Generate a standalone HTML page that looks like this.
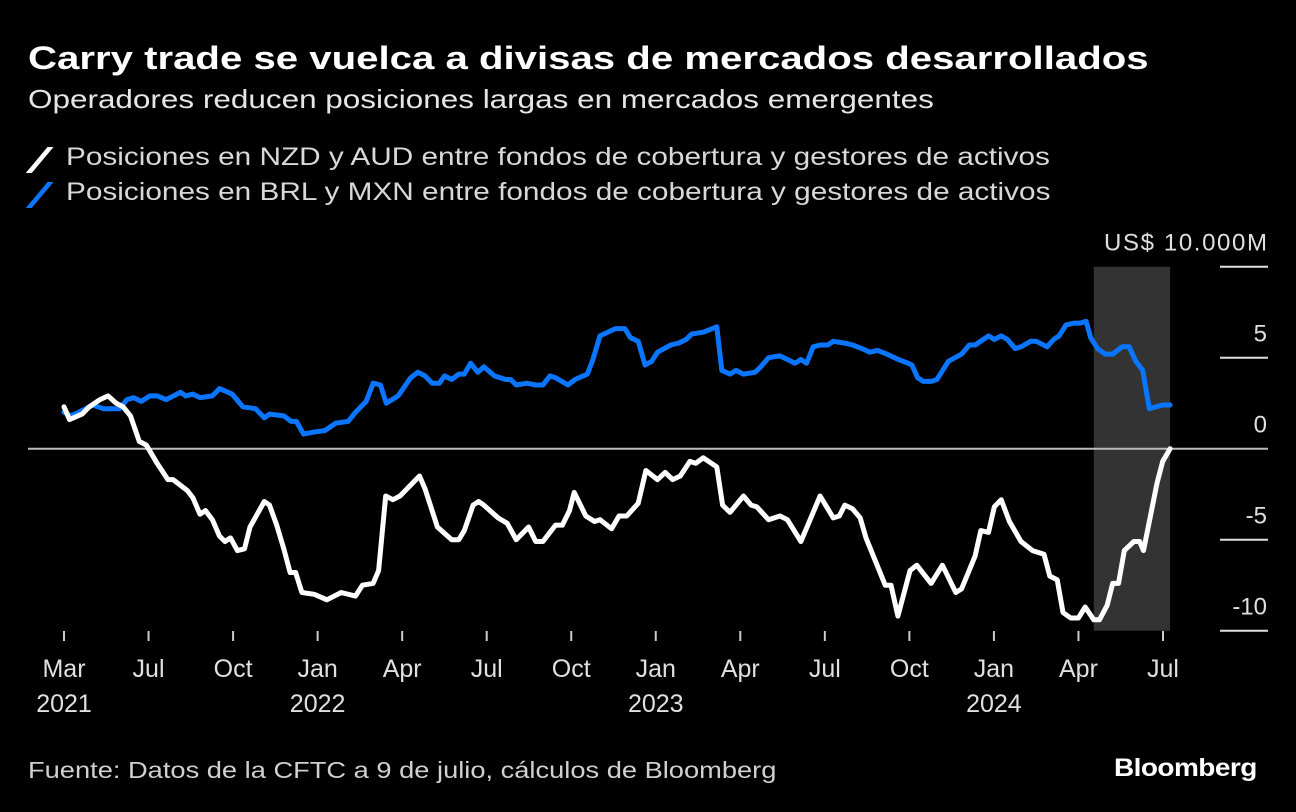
<!DOCTYPE html>
<html><head><meta charset="utf-8"><style>
html,body{margin:0;padding:0;background:#000;}
body{width:1296px;height:812px;position:relative;overflow:hidden;font-family:"Liberation Sans",sans-serif;color:#fff;}
.t{position:absolute;white-space:nowrap;transform-origin:0 0;}
</style></head><body>
<div class="t" style="left:28px;top:40px;font-size:32px;font-weight:bold;transform:scaleX(1.255);">Carry trade se vuelca a divisas de mercados desarrollados</div>
<div class="t" style="left:28px;top:84px;font-size:26px;color:#e6e6e6;transform:scaleX(1.21);">Operadores reducen posiciones largas en mercados emergentes</div>
<div class="t" style="left:30px;top:143px;font-size:25px;color:#d8d8d8;"><span style="display:inline-block;width:6px;height:26px;background:#fff;transform:skewX(-40deg) translateY(4px);margin:0 0 0 10px;"></span><span style="position:absolute;left:36px;top:0;transform:scaleX(1.19);transform-origin:0 0;">Posiciones en NZD y AUD entre fondos de cobertura y gestores de activos</span></div>
<div class="t" style="left:30px;top:178px;font-size:25px;color:#d8d8d8;"><span style="display:inline-block;width:6px;height:26px;background:#0a75ff;transform:skewX(-40deg) translateY(4px);margin:0 0 0 10px;"></span><span style="position:absolute;left:36px;top:0;transform:scaleX(1.19);transform-origin:0 0;">Posiciones en BRL y MXN entre fondos de cobertura y gestores de activos</span></div>
<div class="t" style="left:28px;top:757px;font-size:23px;color:#d0d0d0;transform:scaleX(1.185);">Fuente: Datos de la CFTC a 9 de julio, cálculos de Bloomberg</div>
<div class="t" style="left:1114px;top:754px;font-size:25px;font-weight:bold;letter-spacing:-0.5px;transform:scaleX(1.12);">Bloomberg</div>
<svg id="chart" width="1296" height="812" style="position:absolute;left:0;top:0;"></svg>
<script>
const yTicks=[10,5,0,-5,-10];
const yTickLabels=["US$ 10.000M","5","0","-5","-10"];
const xTickMonths=[0,3.077,6.154,9.231,12.308,15.385,18.462,21.538,24.615,27.692,30.769,33.846,36.923,40];
const xTickLabels=["Mar","Jul","Oct","Jan","Apr","Jul","Oct","Jan","Apr","Jul","Oct","Jan","Apr","Jul"];
const xYearLabels=["2021","","","2022","","","","2023","","","","2024","",""];
const shadeStart=37.48, shadeEnd=40.26;
const nzdMonths=[0,0.2,0.66,0.92,1.31,1.6,1.9,2.15,2.42,2.74,3,3.39,3.78,3.97,4.49,4.69,4.95,5.15,5.4,5.66,5.86,6.06,6.31,6.57,6.77,7.29,7.48,7.74,8,8.23,8.43,8.66,9.11,9.57,10.09,10.61,10.86,11.25,11.45,11.71,11.97,12.23,12.94,13.14,13.59,14.11,14.37,14.57,14.89,15.09,15.28,15.8,16.13,16.46,16.91,17.17,17.43,17.89,18.14,18.4,18.57,18.99,19.31,19.51,19.93,20.2,20.48,20.9,21.18,21.6,21.88,22.15,22.43,22.78,22.99,23.27,23.76,23.97,24.24,24.73,25.01,25.22,25.64,26.06,26.33,26.82,27.52,28,28.22,28.42,28.7,28.98,29.19,29.54,29.89,30.1,30.35,30.79,31.04,31.56,31.97,32.46,32.67,33.16,33.37,33.65,33.86,34.11,34.41,34.83,35.25,35.67,35.88,36.15,36.36,36.64,36.92,37.17,37.48,37.69,37.97,38.17,38.38,38.59,38.94,39.15,39.29,39.78,39.99,40.26];
const nzdValues=[2.3,1.6,1.9,2.3,2.7,2.9,2.5,2.3,1.8,0.4,0.2,-0.8,-1.7,-1.7,-2.3,-2.7,-3.6,-3.4,-3.9,-4.8,-5.1,-4.9,-5.6,-5.5,-4.3,-2.9,-3.1,-4.2,-5.5,-6.8,-6.8,-7.9,-8,-8.3,-7.9,-8.1,-7.5,-7.4,-6.7,-2.6,-2.8,-2.6,-1.5,-2.2,-4.3,-5,-5,-4.5,-3.1,-2.9,-3.1,-3.8,-4.1,-5,-4.3,-5.1,-5.1,-4.2,-4.2,-3.4,-2.4,-3.7,-4,-3.9,-4.4,-3.7,-3.7,-3,-1.2,-1.7,-1.3,-1.7,-1.5,-0.7,-0.8,-0.5,-1,-3.1,-3.5,-2.6,-3.1,-3.2,-3.9,-3.7,-3.9,-5.1,-2.6,-3.8,-3.7,-3.1,-3.3,-3.8,-4.9,-6.2,-7.5,-7.5,-9.2,-6.7,-6.4,-7.4,-6.4,-7.9,-7.7,-5.9,-4.5,-4.6,-3.2,-2.8,-4,-5.1,-5.6,-5.8,-7,-7.2,-9,-9.3,-9.3,-8.7,-9.4,-9.4,-8.6,-7.4,-7.4,-5.6,-5.1,-5.1,-5.6,-1.9,-0.7,0];
const brlMonths=[0,0.27,0.66,1.05,1.44,2.02,2.29,2.54,2.81,3.13,3.39,3.72,4.24,4.43,4.69,4.95,5.4,5.66,6.12,6.51,6.97,7.29,7.48,8,8.27,8.46,8.72,9.04,9.5,9.89,10.34,10.61,11,11.25,11.52,11.73,12.16,12.62,12.88,13.14,13.4,13.66,13.85,14.11,14.37,14.57,14.8,15.06,15.28,15.67,16.07,16.26,16.46,16.84,17.17,17.43,17.69,17.89,18.34,18.6,19.05,19.25,19.51,20.07,20.41,20.62,20.9,21.15,21.39,21.6,22.09,22.37,22.64,22.85,23.27,23.76,23.94,24.24,24.46,24.73,25.15,25.36,25.64,26.06,26.61,26.82,27.03,27.27,27.52,27.8,28,28.42,28.7,29.05,29.33,29.61,29.95,30.37,30.72,30.86,31.07,31.28,31.56,31.77,32.19,32.67,32.95,33.16,33.65,33.86,34.11,34.34,34.62,34.83,35.18,35.39,35.78,36.02,36.22,36.47,36.78,36.99,37.2,37.37,37.62,37.9,38.17,38.52,38.77,39.01,39.26,39.5,39.99,40.26];
const brlValues=[2,1.8,2.1,2.4,2.2,2.2,2.7,2.8,2.6,2.9,2.9,2.7,3.1,2.9,3,2.8,2.9,3.3,3,2.3,2.2,1.7,1.9,1.8,1.5,1.5,0.8,0.9,1,1.4,1.5,2,2.6,3.6,3.5,2.5,2.9,3.9,4.2,4,3.6,3.6,4,3.8,4.1,4.1,4.7,4.2,4.5,4,3.8,3.8,3.5,3.6,3.5,3.5,4,3.9,3.5,3.8,4.1,4.9,6.2,6.6,6.6,6.1,5.9,4.6,4.8,5.3,5.7,5.8,6,6.3,6.4,6.7,4.3,4.1,4.3,4.1,4.2,4.5,5,5.1,4.7,4.9,4.7,5.6,5.7,5.7,5.9,5.8,5.7,5.5,5.3,5.4,5.2,4.9,4.7,4.6,3.9,3.7,3.7,3.8,4.8,5.2,5.7,5.7,6.2,6,6.2,6,5.5,5.6,5.9,5.9,5.6,6,6.2,6.8,6.9,6.9,7,6.1,5.5,5.2,5.2,5.6,5.6,4.8,4.3,2.2,2.4,2.4];

const NS="http://www.w3.org/2000/svg";
const svg=document.getElementById('chart');
const xS=m=>64+m*27.475;
const yS=v=>448.7-v*18.2;
function mk(tag,attrs){const e=document.createElementNS(NS,tag);for(const k in attrs)e.setAttribute(k,attrs[k]);svg.appendChild(e);return e;}

const shade=mk('rect',{x:xS(shadeStart),y:yS(10),width:xS(shadeEnd)-xS(shadeStart),height:yS(-10)-yS(10),fill:'#333'});



yTicks.forEach((v,i)=>{
  if(v!==0){const g=mk('line',{x1:1220,x2:1268,y1:yS(v),y2:yS(v),stroke:'#ddd','stroke-width':2});
  
  }
  const t=mk('text',{x:1267,y:yS(v)-16,'text-anchor':'end',fill:'#e0e0e0','font-size':24,'font-family':'Liberation Sans, sans-serif'});
  t.textContent=yTickLabels[i];
  if(i===0){t.setAttribute('textLength','163');}
  
  
});
const zl=mk('line',{x1:28,x2:1268,y1:yS(0),y2:yS(0),stroke:'#bbb','stroke-width':2});



xTickMonths.forEach((m,i)=>{
  const tk=mk('line',{x1:xS(m),x2:xS(m),y1:631,y2:641,stroke:'#ccc','stroke-width':2});
  
  
  const t=mk('text',{x:xS(m),y:677,'text-anchor':'middle',fill:'#e0e0e0','font-size':25,'font-family':'Liberation Sans, sans-serif'});
  t.textContent=xTickLabels[i];
  
  
  if(xYearLabels[i]){const y=mk('text',{x:xS(m),y:712,'text-anchor':'middle',fill:'#e0e0e0','font-size':25,'font-family':'Liberation Sans, sans-serif'});
  y.textContent=xYearLabels[i];
  
  }
});

function line(ms,vs,color,name){
  const d=ms.map((m,i)=>(i?'L':'M')+xS(m).toFixed(1)+','+yS(vs[i]).toFixed(1)).join('');
  const p=mk('path',{d:d,fill:'none',stroke:color,'stroke-width':5,'stroke-linejoin':'round','stroke-linecap':'round'});
  
  
}
line(brlMonths,brlValues,'#0a75ff','brl-mxn-line');
line(nzdMonths,nzdValues,'#ffffff','nzd-aud-line');
</script>
</body></html>
